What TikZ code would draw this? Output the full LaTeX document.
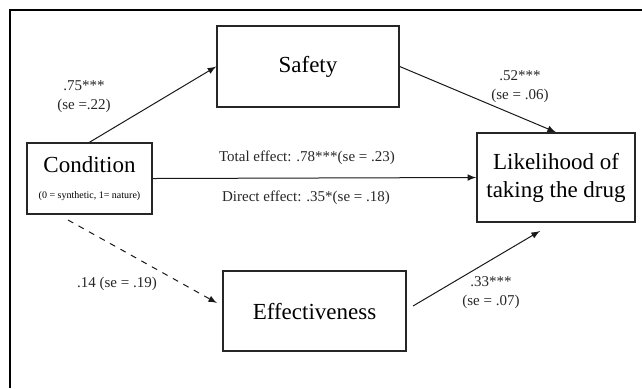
\documentclass[tikz,border=0pt]{standalone}
\usepackage{fontspec}
\setmainfont{Liberation Serif}
\usepackage{tikz}
\usetikzlibrary{arrows, positioning, calc}
\tikzset{
  construct/.style={rectangle,draw=black!85,line width=.75pt,fill=white,align=center,inner sep=0pt,font=\fontsize{11.5}{14}\selectfont},
  path/.style={line width=.5pt,-latex,black!90},
  coef/.style={align=center,inner sep=0pt,text=black!85,font=\fontsize{7.5}{9.5}\selectfont},
  frame/.style={line width=1.1pt,black},
}

\begin{document}
\begin{tikzpicture}[x=0.5pt,y=-0.5pt]
	    \useasboundingbox (0,0) rectangle (642,388);
	    \draw[frame] (10,388) -- (10,10) -- (642,10);
	    % boxes
	    \node[construct,minimum width=91pt,minimum height=40.5pt] (safety) at (308,66.5) {Safety};
	    \node[construct,minimum width=62.5pt,minimum height=35.5pt] (cond) at (89.5,178.5) {Condition\\[-1pt]{\fontsize{5}{6}\selectfont (0 = synthetic, 1= nature)}};
	    \node[construct,minimum width=79pt,minimum height=44.5pt] (lik) at (556,177.5) {Likelihood of\\taking the drug};
	    \node[construct,minimum width=91.5pt,minimum height=40pt] (eff) at (314.5,311) {Effectiveness};
	    % free ends
	    \coordinate (dashA) at (68,220);
	    \coordinate (dashB) at (217,303);
	    \coordinate (effA) at (413,306);
	    \coordinate (effB) at (540,231);
	    % paths
	    \draw[path] (cond.north) -- (safety.west);
	    \draw[path] (safety.east) -- (lik.north);
	    \draw[path] (cond.east) -- (lik.west);
	    \draw[path,dashed] (dashA) -- (dashB);
	    \draw[path] (effA) -- (effB);
	    % coefficients
	    \node[coef] (a) at (84,97) {.75***\\(se =.22)};
	    \node[coef] (b) at (520,87) {.52***\\(se = .06)};
	    \node[coef] (c) at (307,158) {Total effect: .78***(se = .23)};
	    \node[coef] (cp) at (306,198) {Direct effect: .35*(se = .18)};
	    \node[coef] (d) at (117,284) {.14 (se = .19)};
	    \node[coef] (e) at (491,293) {.33***\\(se = .07)};
	\end{tikzpicture}
\end{document}
